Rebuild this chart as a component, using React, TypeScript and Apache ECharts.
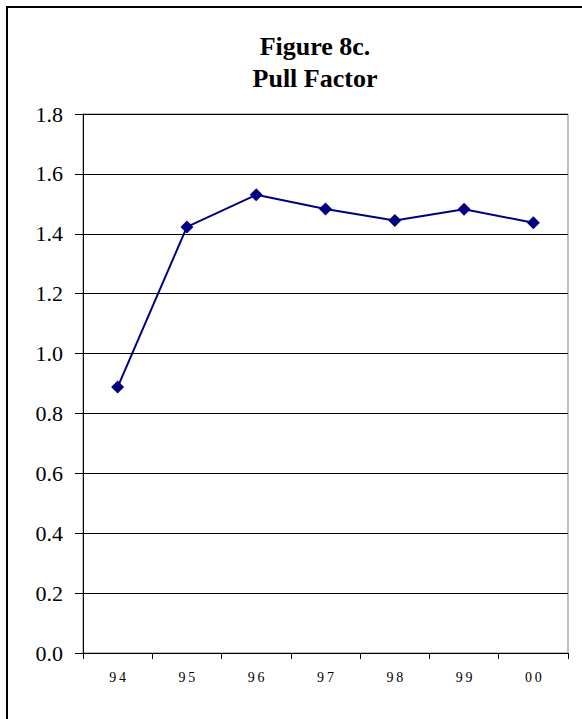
import React, { useEffect, useRef } from "react";
import * as echarts from "echarts";

const categories = ["94", "95", "96", "97", "98", "99", "00"];
const pullFactor = [0.888, 1.423, 1.53, 1.483, 1.444, 1.482, 1.437];
const yTicks = { min: 0, max: 1.8, interval: 0.2 };
const titleLines = ["Figure 8c.", "Pull Factor"];

export default function App() {
  const ref = useRef<HTMLDivElement>(null);
  useEffect(() => {
    document.body.style.margin = "0";
    const chart = echarts.init(ref.current!, null, { renderer: "svg" });
    const titleStyle = {
      fontFamily: "Liberation Serif",
      fontWeight: "bold",
      fontSize: 26,
      fill: "#000",
      align: "center",
      verticalAlign: "middle",
    };
    chart.setOption({
      animation: false,
      backgroundColor: "#ffffff",
      textStyle: { fontFamily: "Liberation Serif" },
      graphic: [
        {
          type: "rect",
          shape: { x: 7, y: 7, width: 700, height: 800 },
          style: { fill: "none", stroke: "#000", lineWidth: 2 },
          silent: true,
        },
        { type: "text", x: 315, y: 46, style: { ...titleStyle, text: titleLines[0] } },
        { type: "text", x: 315, y: 78, style: { ...titleStyle, text: titleLines[1] } },
      ],
      grid: { left: 83, right: 14, top: 114, bottom: 66, containLabel: false, show: true, borderColor: "#808080", borderWidth: 1 },
      xAxis: {
        type: "category",
        data: categories,
        boundaryGap: true,
        axisLine: { lineStyle: { color: "#000", width: 1 } },
        axisTick: { show: true, inside: false, length: 6, lineStyle: { color: "#000" } },
        axisLabel: {
          color: "#000",
          fontFamily: "Liberation Serif",
          fontSize: 14,
          margin: 17,
          formatter: (v: string) => v.split("").join("\u2009"),
        },
        splitLine: { show: false },
      },
      yAxis: {
        type: "value",
        min: yTicks.min,
        max: yTicks.max,
        interval: yTicks.interval,
        axisLine: { show: true, lineStyle: { color: "#000", width: 1 } },
        axisTick: { show: true, inside: false, length: 8, lineStyle: { color: "#000" } },
        axisLabel: {
          color: "#000",
          fontFamily: "Liberation Serif",
          fontSize: 22,
          margin: 20,
          formatter: (v: number) => v.toFixed(1),
        },
        splitLine: { show: true, lineStyle: { color: "#000", width: 1 } },
      },
      series: [
        {
          type: "line",
          data: pullFactor,
          symbol: "diamond",
          symbolSize: 13,
          itemStyle: { color: "#000080" },
          lineStyle: { color: "#000080", width: 2 },
        },
      ],
    });
    return () => chart.dispose();
  }, []);
  return <div ref={ref} style={{ position: "fixed", left: 0, top: 0, width: 582, height: 719 }} />;
}
